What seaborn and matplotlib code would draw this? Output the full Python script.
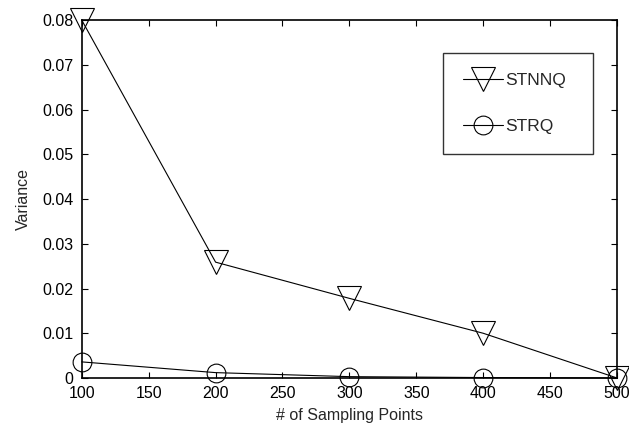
import matplotlib
matplotlib.use("Agg")
import matplotlib.pyplot as plt
import seaborn as sns
import pandas as pd
from matplotlib.lines import Line2D

sampling_points = [100, 200, 300, 400, 500]
stnnq_variance = [0.0800, 0.0259, 0.0178, 0.0100, 0.0000]
strq_variance = [0.0036, 0.0012, 0.0003, 0.0001, 0.0000]
series_names = ["STNNQ", "STRQ"]

df = pd.DataFrame({
    "points": sampling_points * 2,
    "variance": stnnq_variance + strq_variance,
    "method": [series_names[0]] * 5 + [series_names[1]] * 5,
})

sns.set_style("ticks")
plt.rcParams["font.family"] = ["Liberation Sans", "DejaVu Sans"]
plt.rcParams["xtick.direction"] = "in"
plt.rcParams["ytick.direction"] = "in"

fig = plt.figure(figsize=(6.29, 4.38), dpi=100)
ax = fig.add_axes([0.130, 0.137, 0.851, 0.817])

markers = {"STNNQ": "v", "STRQ": "o"}
sizes = {"STNNQ": 17, "STRQ": 13.5}
for name in series_names:
    sub = df[df["method"] == name]
    sns.lineplot(data=sub, x="points", y="variance", ax=ax, color="black",
                 linewidth=0.8, marker=markers[name], markersize=sizes[name],
                 markerfacecolor="none", markeredgecolor="black",
                 markeredgewidth=0.8, legend=False, clip_on=False, zorder=3)

ax.set_xlim(100, 500)
ax.set_ylim(0, 0.08)
ax.set_xticks(range(100, 501, 50))
ax.set_yticks([0, 0.01, 0.02, 0.03, 0.04, 0.05, 0.06, 0.07, 0.08])
ax.set_yticklabels(["0", "0.01", "0.02", "0.03", "0.04", "0.05", "0.06", "0.07", "0.08"])
ax.tick_params(axis="both", which="both", direction="in", top=True, right=True,
               length=4, width=0.8, labelsize=11.5, pad=6, colors="black")
for s in ax.spines.values():
    s.set_visible(True)
    s.set_linewidth(1.2)
    s.set_color("black")

ax.set_xlabel("# of Sampling Points", fontsize=11.5, labelpad=5)
ax.set_ylabel("Variance", fontsize=11.5, labelpad=8)

handles = [
    Line2D([], [], color="black", linewidth=0.8, marker="v", markersize=17,
           markerfacecolor="none", markeredgecolor="black", markeredgewidth=0.8),
    Line2D([], [], color="black", linewidth=0.8, marker="o", markersize=13.5,
           markerfacecolor="none", markeredgecolor="black", markeredgewidth=0.8),
]
leg = ax.legend(handles, series_names, loc="upper left",
                bbox_to_anchor=(0.675, 0.0, 0.280, 0.908), mode="expand",
                frameon=True, fancybox=False,
                fontsize=12.5, handlelength=2.3, labelspacing=1.75,
                borderpad=1.15, handletextpad=0.1, borderaxespad=0)
leg.get_frame().set_edgecolor("black")
leg.get_frame().set_linewidth(1.0)

fig.savefig("out.png", dpi=100)
